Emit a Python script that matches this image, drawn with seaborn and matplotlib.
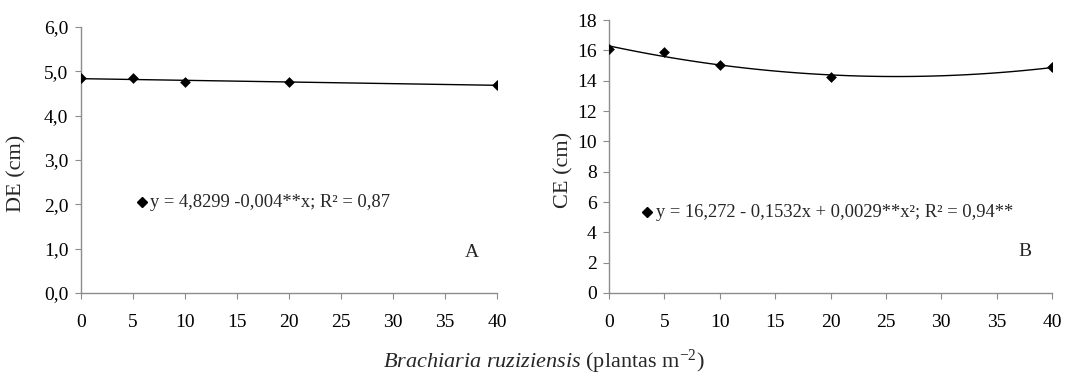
import matplotlib
matplotlib.use("Agg")
import matplotlib.pyplot as plt
from matplotlib.ticker import FuncFormatter, MultipleLocator
import pandas as pd
import seaborn as sns

# --- Data ---
densities = [0, 5, 10, 20, 40]
de_values = [4.84, 4.84, 4.76, 4.76, 4.69]
ce_values = [16.1, 15.9, 15.05, 14.25, 14.9]

de_label = "DE (cm)"
ce_label = "CE (cm)"
de_eq = "y = 4,8299 -0,004**x; R² = 0,87"
ce_eq = "y = 16,272 - 0,1532x + 0,0029**x²; R² = 0,94**"
x_label = r"$\mathit{Brachiaria\ ruziziensis}$ (plantas m$^{-2}$)"

# --- Style ---
sns.set_style("ticks")
plt.rcParams["font.family"] = ["Liberation Serif", "DejaVu Serif"]
plt.rcParams["mathtext.fontset"] = "custom"
plt.rcParams["mathtext.rm"] = "Liberation Serif"
plt.rcParams["mathtext.it"] = "Liberation Serif:italic"
plt.rcParams["font.size"] = 13

df = pd.DataFrame({"x": densities, "de": de_values, "ce": ce_values})

fig = plt.figure(figsize=(10.87, 3.8), dpi=100)
ax_a = fig.add_axes([0.0745, 0.229, 0.3827, 0.700])
ax_b = fig.add_axes([0.5603, 0.229, 0.4075, 0.718])

comma = lambda fmt: FuncFormatter(lambda v, p: (fmt % v).replace(".", ","))


def draw_panel(ax, col, order, ymax, ystep, fmt, ylabel, ylab_x, eq, eq_pos, letter):
    sns.regplot(data=df, x="x", y=col, order=order, ci=None, ax=ax,
                truncate=True, marker="D",
                scatter_kws=dict(s=30, color="black", alpha=1, zorder=3,
                                 linewidths=0),
                line_kws=dict(color="black", lw=1.0))
    ax.set_xlim(0, 40)
    ax.set_ylim(0, ymax)
    ax.xaxis.set_major_locator(MultipleLocator(5))
    ax.yaxis.set_major_locator(MultipleLocator(ystep))
    ax.yaxis.set_major_formatter(comma(fmt))
    ax.set_xlabel("")
    ax.set_ylabel(ylabel, fontsize=16)
    ax.yaxis.set_label_coords(ylab_x, 0.45)
    for s in ["top", "right"]:
        ax.spines[s].set_visible(False)
    for s in ["left", "bottom"]:
        ax.spines[s].set_color("#8c8c8c")
        ax.spines[s].set_linewidth(1.0)
    ax.tick_params(axis="both", color="#8c8c8c", length=4, labelsize=14,
                   labelcolor="black")
    ax.tick_params(axis="x", pad=11)
    ax.tick_params(axis="y", pad=5)
    ax.patch.set_alpha(0)
    # equation with diamond marker, like a chart legend entry
    ax.plot([eq_pos[0]], [eq_pos[1]], marker="D", ms=5, color="black",
            transform=ax.transAxes, clip_on=False)
    ax.text(eq_pos[0] + 0.02, eq_pos[1], eq, transform=ax.transAxes,
            fontsize=13.3, va="center", ha="left")
    ax.text(0.94, 0.152, letter, transform=ax.transAxes, fontsize=14,
            ha="center", va="center")


draw_panel(ax_a, "de", 1, 6, 1, "%.1f", de_label, -0.132, de_eq, (0.147, 0.342), "A")
draw_panel(ax_b, "ce", 2, 18, 2, "%.0f", ce_label, -0.081, ce_eq, (0.085, 0.296), "B")

fig.text(0.5, 0.047, x_label, ha="center", va="center", fontsize=16)

fig.savefig("out.png", dpi=100)
